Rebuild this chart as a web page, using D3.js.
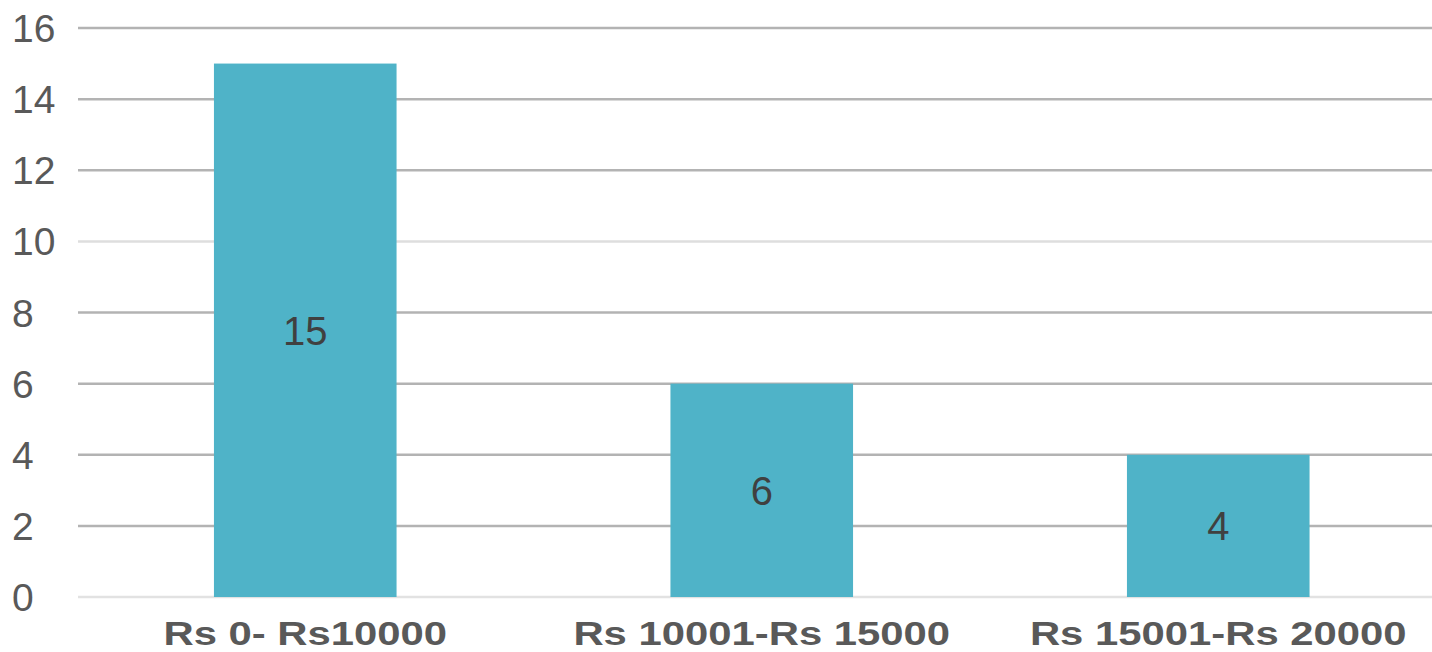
<!DOCTYPE html>
<html>
<head>
<meta charset="utf-8">
<script src="https://cdn.jsdelivr.net/npm/d3@7"></script>
<style>
  html, body { margin: 0; padding: 0; background: #fff; }
  svg { display: block; }
</style>
</head>
<body>
<svg id="chart" width="1432" height="652"></svg>
<script>
const categories = ["Rs 0- Rs10000", "Rs 10001-Rs 15000", "Rs 15001-Rs 20000"];
const values = [15, 6, 4];
const yTicks = [0, 2, 4, 6, 8, 10, 12, 14, 16];

const svg = d3.select("#chart");
const font = "'Liberation Sans', Arial, sans-serif";

const y = d3.scaleLinear().domain([0, 16]).range([597, 28]);
const x = d3.scaleBand().domain(categories).range([77, 1446.5]).paddingInner(0.6).paddingOuter(0.3);

// gridlines
svg.append("g").selectAll("line").data(yTicks).join("line")
  .attr("x1", 78).attr("x2", 1432)
  .attr("y1", d => y(d)).attr("y2", d => y(d))
  .attr("stroke", d => d === 0 ? "#e2e2e2" : (d === 10 ? "#dedede" : "#b3b3b3"))
  .attr("stroke-width", 2.5);

// y tick labels
svg.append("g").selectAll("text").data(yTicks).join("text")
  .attr("x", 12).attr("y", d => y(d))
  .attr("dy", "0.36em")
  .attr("font-family", font).attr("font-size", 39)
  .attr("fill", "#595959")
  .text(d => d);

// bars
svg.append("g").selectAll("rect").data(values).join("rect")
  .attr("x", (d, i) => x(categories[i]))
  .attr("width", x.bandwidth())
  .attr("y", d => y(d))
  .attr("height", d => y(0) - y(d))
  .attr("fill", "#4fb3c8");

// data labels
svg.append("g").selectAll("text").data(values).join("text")
  .attr("x", (d, i) => x(categories[i]) + x.bandwidth() / 2)
  .attr("y", d => (y(d) + y(0)) / 2)
  .attr("dy", "0.36em")
  .attr("text-anchor", "middle")
  .attr("font-family", font).attr("font-size", 40)
  .attr("fill", "#404040")
  .text(d => d);

// x labels
svg.append("g").selectAll("text").data(categories).join("text")
  .attr("transform", d => `translate(${x(d) + x.bandwidth() / 2},645) scale(1.23,1)`)
  .attr("text-anchor", "middle")
  .attr("font-family", font).attr("font-size", 34).attr("font-weight", "bold")
  .attr("fill", "#595959")
  .text(d => d);
</script>
</body>
</html>
